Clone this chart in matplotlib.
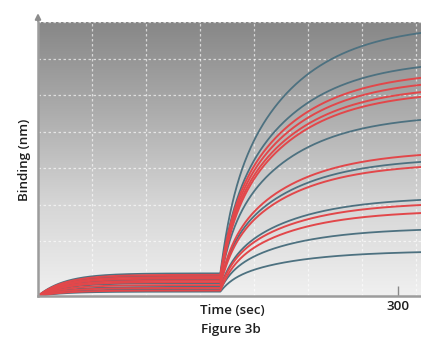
import numpy as np
import matplotlib
matplotlib.use("Agg")
import matplotlib.pyplot as plt
from matplotlib.colors import LinearSegmentedColormap

# ---- data ----
t_injection = 152.0          # s, start of association phase
t_end = 319.0                # s, right edge of the view
x_tick_values = [300]
x_tick_labels = ["300"]

# binding at the right edge (end of association), and pre-injection baseline level
blue_end = [7.20, 6.27, 4.82, 3.67, 2.63, 1.81, 1.20]
blue_base = [0.62, 0.55, 0.45, 0.35, 0.25, 0.18, 0.12]
red_end = [5.97, 5.78, 5.58, 5.45, 3.86, 3.53, 2.49, 2.27]
red_base = [0.58, 0.52, 0.48, 0.42, 0.38, 0.30, 0.22, 0.15]

k_base = 0.045    # 1/s, baseline loading rate
fast_frac = 0.25
k_fast = 0.10
k_slow = 0.018

BLUE = "#4d7180"
RED = "#e2474a"
TEXT = "#1e1e1e"


def assoc_shape(tau):
    tau = np.clip(tau, 0, None)
    return fast_frac * (1 - np.exp(-k_fast * tau)) + (1 - fast_frac) * (1 - np.exp(-k_slow * tau))


def curve(t, base, end):
    b = base * (1 - np.exp(-k_base * t))
    amp = (end - base * (1 - np.exp(-k_base * t_end))) / assoc_shape(t_end - t_injection)
    return b + amp * assoc_shape(t - t_injection)


fig = plt.figure(figsize=(4.21, 3.43), dpi=100)
ax = fig.add_axes([38 / 421, 47 / 343, 383 / 421, 274 / 343])
xmax = (421 - 38) / 1.2
ymax = 7.5
ax.set_xlim(0, xmax)
ax.set_ylim(0, ymax)

# gradient background
grad = np.linspace(0, 1, 256).reshape(-1, 1)
cmap = LinearSegmentedColormap.from_list("g", ["#f0f0f0", "#d6d6d6", "#adadad", "#878787"])
ax.imshow(grad, extent=[0, xmax, 0, ymax], origin="lower", aspect="auto", cmap=cmap, zorder=0)

# grid
for gx in np.arange(45, xmax, 45):
    ax.axvline(gx, color="white", lw=0.9, ls=(0, (2, 2)), alpha=0.65, zorder=1)
for gy in np.arange(1.5, ymax + 0.01, 1.0):
    ax.axhline(gy, color="white", lw=0.9, ls=(0, (2, 2)), alpha=0.65, zorder=1)

t = np.linspace(0, xmax, 900)
for b, e in zip(blue_base, blue_end):
    ax.plot(t, curve(t, b, e), color=BLUE, lw=1.3, zorder=3)
for b, e in zip(red_base, red_end):
    ax.plot(t, curve(t, b, e), color=RED, lw=1.4, zorder=4)

for s in ["top", "right"]:
    ax.spines[s].set_visible(False)
for s in ["left", "bottom"]:
    ax.spines[s].set_color("#9c9c9c")
    ax.spines[s].set_linewidth(1.8)
    ax.spines[s].set_zorder(5)

font = dict(family="Open Sans", fontweight="semibold", color=TEXT, fontsize=9.6)

ax.set_yticks([])
ax.set_xticks(x_tick_values)
ax.set_xticklabels(x_tick_labels, **font)
ax.tick_params(axis="x", direction="in", length=7, width=1.0, color="#888888", pad=3)

# y-axis arrow
ax.annotate("", xy=(0, ymax + 0.32), xytext=(0, ymax - 0.05), xycoords="data",
            arrowprops=dict(arrowstyle="-|>", color="#8c8c8c", lw=1.5, mutation_scale=8),
            annotation_clip=False)

fig.text(232 / 421, 1 - 310 / 343, "Time (sec)", ha="center", va="center", **font)
fig.text(231 / 421, 1 - 329 / 343, "Figure 3b", ha="center", va="center", **font)
fig.text(25 / 421, 1 - 160 / 343, "Binding (nm)", ha="center", va="center", rotation=90, **font)

fig.savefig("out.png", dpi=100)
